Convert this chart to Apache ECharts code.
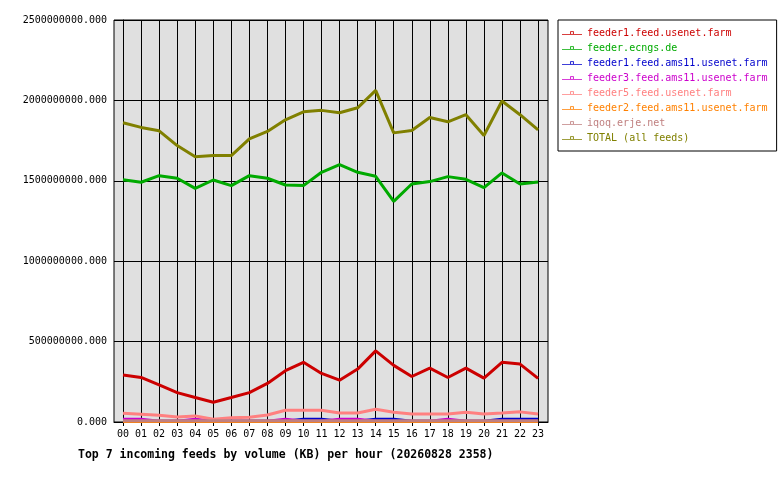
<!DOCTYPE html>
<html>
<head>
<meta charset="utf-8">
<script src="https://cdn.jsdelivr.net/npm/echarts@6/dist/echarts.min.js"></script>
<style>
html, body { margin:0; padding:0; background:#fff; }
#view1 { width:780px; height:480px; }
</style>
</head>
<body>
<div id="view1"></div>
<script>
"use strict";
var hours = ['00','01','02','03','04','05','06','07','08','09','10','11',
	'12','13','14','15','16','17','18','19','20','21','22','23'];
var names = ['feeder1.feed.usenet.farm', 'feeder.ecngs.de', 'feeder1.feed.ams11.usenet.farm',
	'feeder3.feed.ams11.usenet.farm', 'feeder5.feed.usenet.farm', 'feeder2.feed.ams11.usenet.farm',
	'iqoq.erje.net', 'TOTAL (all feeds)'];
var colors = ['#cc0000', '#00aa00', '#0000cc', '#cc00cc', '#ff8080', '#ff8000', '#c08080', '#808000'];
// values in millions of KB
var feeder1 = [292, 277, 231, 183, 152, 123, 152, 183, 240, 319, 371, 302,
	260, 329, 442, 352, 283, 335, 277, 335, 273, 371, 360, 271];
var ecngs = [1507, 1491, 1532, 1516, 1453, 1505, 1470, 1532, 1516, 1474, 1470, 1553,
	1601, 1553, 1528, 1372, 1480, 1495, 1526, 1509, 1457, 1549, 1480, 1493];
var ams11a = [5, 5, 5, 5, 5, 5, 5, 5, 5, 5, 17, 17,
	5, 5, 17, 17, 5, 5, 5, 5, 5, 17, 17, 17];
var ams11c = [17, 17, 5, 5, 17, 5, 5, 5, 5, 17, 5, 5,
	17, 17, 5, 5, 5, 5, 17, 5, 5, 5, 5, 5];
var feeder5 = [54, 48, 42, 31, 38, 17, 27, 29, 44, 73, 73, 73,
	56, 56, 79, 60, 50, 50, 50, 60, 50, 56, 63, 50];
var ams11b = [3, 3, 3, 3, 3, 3, 3, 3, 3, 3, 3, 3,
	3, 3, 3, 3, 3, 3, 3, 3, 3, 3, 3, 3];
var iqoq = [8, 8, 8, 8, 8, 8, 8, 8, 8, 8, 8, 8,
	8, 8, 8, 8, 8, 8, 8, 8, 8, 8, 8, 8];
var total = [1861, 1832, 1811, 1719, 1649, 1657, 1657, 1761, 1807, 1879, 1929, 1938,
	1923, 1954, 2062, 1798, 1813, 1894, 1867, 1911, 1782, 1996, 1911, 1817];
var yTicks = [0, 500000000, 1000000000, 1500000000, 2000000000, 2500000000];

$ready();
function $ready(){
	var all = [feeder1, ecngs, ams11a, ams11c, feeder5, ams11b, iqoq, total];
	var font = 'DejaVu Sans Mono';
	var hourIdx = hours.map(function(h, i){ return i; });
	var series = all.map(function(d, i){
		return {
			name: names[i], type: 'line',
			data: d.map(function(v, j){ return [j, v * 1e6]; }),
			symbol: 'none', showSymbol: false,
			lineStyle: { color: colors[i], width: 3 }, itemStyle: { color: colors[i] },
			emphasis: { disabled: true }, silent: true
		};
	});
	var option = {
		animation: false,
		backgroundColor: '#fff',
		title: {
			text: 'Top 7 incoming feeds by volume (KB) per hour (20260828 2358)',
			left: 73, top: 444,
			textStyle: { fontFamily: font, fontSize: 11.5, fontWeight: 'bold', color: '#000' }
		},
		legend: {
			orient: 'vertical', left: 558, top: 20,
			padding: [7, 9, 7, 4], itemGap: 3, itemWidth: 20, itemHeight: 6,
			backgroundColor: '#fff', borderColor: '#000', borderWidth: 1, borderRadius: 0,
			icon: 'path://M0,4H22V5H0Z M9,1H13V2H9Z M9,1H10V5H9Z M12,1H13V5H12Z',
			textStyle: { fontFamily: font, fontSize: 10, lineHeight: 12 },
			data: names.map(function(n, i){ return { name: n, textStyle: { color: colors[i] } }; })
		},
		grid: {
			left: 114, right: 232, top: 20, bottom: 58,
			show: true, backgroundColor: '#e0e0e0', borderColor: '#000', borderWidth: 1
		},
		xAxis: {
			type: 'value', min: -0.5, max: 23.55,
			axisLine: { onZero: false, lineStyle: { color: '#000', width: 1 } },
			axisTick: { show: true, customValues: hourIdx, length: 4, lineStyle: { color: '#000' } },
			axisLabel: { customValues: hourIdx, fontFamily: font, fontSize: 10, color: '#000', margin: 7,
				formatter: function(v){ return hours[Math.round(v)]; } },
			splitLine: { show: true, lineStyle: { color: '#000', width: 1 } }
		},
		yAxis: {
			type: 'value', min: yTicks[0], max: yTicks[yTicks.length - 1], interval: yTicks[1] - yTicks[0],
			axisLine: { show: true, lineStyle: { color: '#000' } },
			axisTick: { show: true, length: 5, lineStyle: { color: '#000' } },
			axisLabel: { fontFamily: font, fontSize: 10, color: '#000', margin: 7,
				formatter: function(v){ return v.toFixed(3); } },
			splitLine: { show: true, lineStyle: { color: '#000', width: 1 } }
		},
		series: series
	};
	var myChart = echarts.init(document.getElementById('view1'));
	myChart.setOption(option);
}
</script>
</body>
</html>
